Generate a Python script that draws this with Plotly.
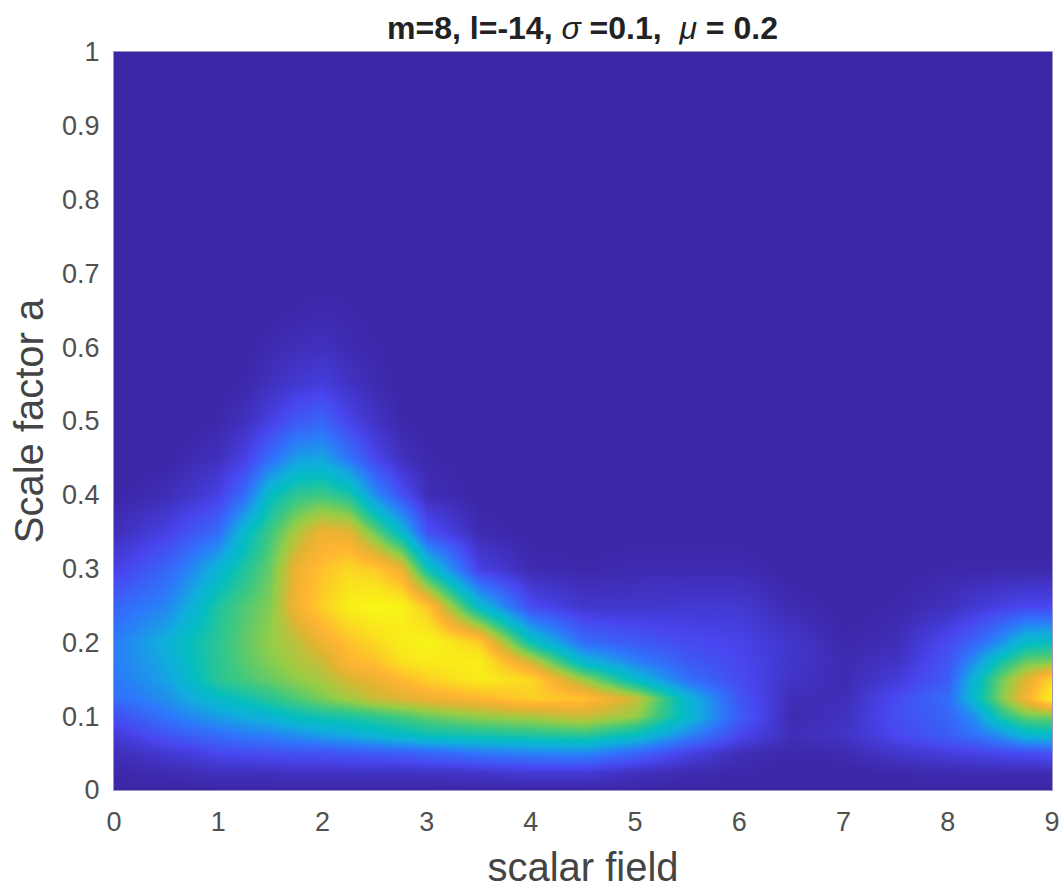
import plotly.graph_objects as go

x_field = [0, 0.5, 0.75, 1, 1.25, 1.5, 1.75, 2, 2.25, 2.5, 2.75, 3, 3.5, 4, 4.5, 5, 5.5, 6, 6.5, 7, 7.5, 8, 8.25, 8.5, 8.75, 9]
y_scale = [0, 0.025, 0.05, 0.075, 0.1, 0.125, 0.15, 0.175, 0.2, 0.25, 0.3, 0.35, 0.4, 0.45, 0.5, 0.55, 0.6, 0.65, 0.7, 1]

row_000 = [0] * 26
row_025 = [.01, .02, .03, .04, .04, .04, .05, .05, .05, .05, .05, .05, .06, .08, .08, .04, .02, .01, 0, 0, .01, .02, .02, .02, .02, .02]
row_050 = [.03, .07, .09, .12, .13, .14, .15, .15, .16, .17, .18, .20, .24, .27, .28, .20, .10, .03, .01, .02, .06, .09, .10, .12, .13, .15]
row_075 = [.08, .15, .19, .22, .25, .27, .30, .33, .36, .40, .43, .46, .48, .50, .52, .44, .28, .12, .03, .05, .12, .18, .23, .30, .40, .42]
row_100 = [.14, .24, .29, .33, .37, .40, .45, .48, .50, .53, .56, .60, .65, .68, .72, .65, .42, .18, .02, .04, .14, .20, .30, .50, .60, .62]
row_125 = [.22, .30, .37, .43, .47, .52, .57, .62, .67, .72, .75, .78, .82, .88, .85, .72, .40, .16, .03, .03, .13, .22, .42, .62, .80, .97]
row_150 = [.25, .34, .43, .52, .56, .60, .64, .68, .74, .78, .83, .88, .95, .90, .66, .42, .23, .13, .05, .02, .08, .18, .40, .60, .75, .90]
row_175 = [.26, .36, .45, .52, .58, .63, .68, .72, .82, .85, .92, .95, .96, .72, .40, .27, .17, .12, .06, .02, .05, .16, .30, .48, .60, .62]
row_200 = [.26, .38, .46, .52, .59, .65, .70, .78, .85, .90, .95, .98, .88, .46, .22, .17, .13, .11, .06, .01, .03, .13, .20, .30, .43, .45]
row_250 = [.20, .28, .38, .50, .57, .63, .79, .88, .96, .99, .97, .86, .42, .13, .06, .06, .07, .07, .02, 0, .01, .04, .07, .10, .12, .12]
row_300 = [.10, .20, .29, .40, .50, .60, .78, .85, .90, .87, .78, .47, .10, .02, .01, .02, .02, .02, 0, 0, 0, .01, .01, .01, .01, .01]
row_350 = [.03, .10, .16, .22, .42, .55, .68, .78, .76, .60, .42, .15, .02, 0, 0, 0, 0, 0, 0, 0, 0, 0, 0, 0, 0, 0]
row_400 = [0, .03, .06, .10, .22, .44, .53, .55, .50, .30, .15, .03, 0, 0, 0, 0, 0, 0, 0, 0, 0, 0, 0, 0, 0, 0]
row_450 = [0, 0, .02, .04, .10, .22, .33, .35, .24, .12, .04, .01, 0, 0, 0, 0, 0, 0, 0, 0, 0, 0, 0, 0, 0, 0]
row_500 = [0, 0, 0, .01, .04, .10, .17, .20, .11, .05, .01, 0, 0, 0, 0, 0, 0, 0, 0, 0, 0, 0, 0, 0, 0, 0]
row_550 = [0, 0, 0, 0, .01, .04, .07, .09, .05, .02, 0, 0, 0, 0, 0, 0, 0, 0, 0, 0, 0, 0, 0, 0, 0, 0]
row_600 = [0, 0, 0, 0, 0, .02, .03, .04, .02, .01, 0, 0, 0, 0, 0, 0, 0, 0, 0, 0, 0, 0, 0, 0, 0, 0]
row_650 = [0, 0, 0, 0, 0, 0, .01, .015, .01, 0, 0, 0, 0, 0, 0, 0, 0, 0, 0, 0, 0, 0, 0, 0, 0, 0]
row_700 = [0] * 26
row_1000 = [0] * 26
z_values = [row_000, row_025, row_050, row_075, row_100, row_125, row_150, row_175, row_200, row_250,
            row_300, row_350, row_400, row_450, row_500, row_550, row_600, row_650, row_700, row_1000]

x_ticks = [0, 1, 2, 3, 4, 5, 6, 7, 8, 9]
y_ticks = [0, 0.1, 0.2, 0.3, 0.4, 0.5, 0.6, 0.7, 0.8, 0.9, 1]
y_tick_labels = ["0", "0.1", "0.2", "0.3", "0.4", "0.5", "0.6", "0.7", "0.8", "0.9", "1"]

parula = [
    [0.00, "rgb(60,38,165)"], [0.12, "rgb(72,70,240)"], [0.25, "rgb(45,120,250)"],
    [0.37, "rgb(15,175,220)"], [0.45, "rgb(5,190,190)"], [0.55, "rgb(60,200,130)"],
    [0.65, "rgb(150,205,70)"], [0.75, "rgb(225,180,50)"], [0.82, "rgb(255,180,50)"],
    [0.92, "rgb(250,225,30)"], [1.00, "rgb(247,252,20)"],
]

fig = go.Figure(go.Heatmap(x=x_field, y=y_scale, z=z_values, zmin=0, zmax=1,
                           colorscale=parula, showscale=False, zsmooth="best"))

FONT = "Liberation Sans, Arial, sans-serif"
axis_common = dict(showgrid=False, zeroline=False, showline=True, mirror=True, linecolor="#9a96c0",
                   linewidth=1, ticks="", ticklabelstandoff=8,
                   tickfont=dict(family=FONT, size=27, color="#505050"))
fig.update_layout(
    width=1062, height=890, paper_bgcolor="white", plot_bgcolor="white",
    margin=dict(l=114, r=10, t=52, b=100, pad=0),
    title=dict(text="<b>m=8, l=-14, </b><i>σ</i><b> =0.1, </b> <i>μ</i><b> = 0.2</b>",
               x=0.5485, xanchor="center", y=0.9685, yanchor="middle",
               font=dict(family=FONT, size=32, color="#222")),
    xaxis=dict(range=[0, 9], tickvals=x_ticks, ticktext=[str(v) for v in x_ticks],
               ticklabeloverflow="allow", domain=[0, 1], automargin="bottom",
               title=dict(text="scalar field", font=dict(family=FONT, size=40, color="#444"), standoff=16),
               **axis_common),
    yaxis=dict(range=[0, 1], tickvals=y_ticks, ticktext=y_tick_labels, automargin="left",
               title=dict(text="Scale factor a", font=dict(family=FONT, size=40, color="#444"), standoff=6),
               **axis_common),
)
fig.write_html("out.html", config={"displayModeBar": False}, post_script="document.body.style.margin='0';")
